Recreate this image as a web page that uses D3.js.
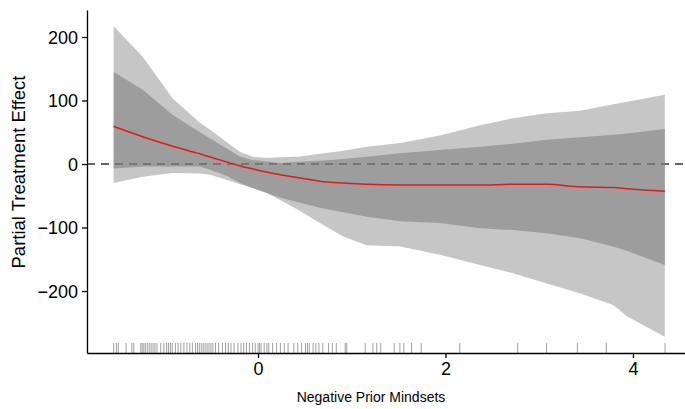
<!DOCTYPE html>
<html>
<head>
<meta charset="utf-8">
<script src="https://cdn.jsdelivr.net/npm/d3@7"></script>
<style>
  body { margin: 0; background: #fff; }
  svg { display: block; font-family: "Liberation Sans", Arial, Helvetica, sans-serif; }
  .axis text { font-size: 18px; fill: #000; }
  .axis path, .axis line { stroke: #000; stroke-width: 1.3px; }
</style>
</head>
<body>
<svg id="chart" width="685" height="409"></svg>
<script>
// x grid of the smooth (negative prior mindsets)
const xs = [-1.54, -1.23, -0.91, -0.62, -0.51, -0.33, -0.19, -0.05, 0.10, 0.24, 0.45, 0.66,
  0.91, 1.16, 1.52, 1.94, 2.37, 2.72, 3.08, 3.44, 3.79, 3.94, 4.34];
// partial treatment effect estimate
const fit = [59, 43, 28, 16, 11, 3, -3, -8, -13, -17, -22, -27,
  -30, -32, -33, -33, -33, -32, -32, -36, -37, -39, -43];
// inner band
const innerHi = [145, 117, 77, 50, 40, 24, 11.5, 6, 4, 1.6, 3.6, 5,
  8, 11.5, 17, 22, 27, 32, 38, 42, 46, 48, 55];
const innerLo = [-7, -4, -4, -4, -9, -19, -30, -38, -46, -53, -61, -69,
  -76, -83, -90, -93, -101, -104, -109, -117, -130, -137, -159];
// outer band
const outerHi = [217, 169, 103, 65, 54, 34, 19, 11, 10, 10.5, 12, 16,
  21, 27, 33, 45, 61, 72, 80, 84, 94, 98, 109];
const outerLo = [-30, -20, -14, -15, -17, -25, -32, -38, -46, -57, -74, -93,
  -114, -128, -130, -143, -159, -172, -188, -204, -222, -240, -272];
// observed values (rug)
const rug = [-1.539, -1.510, -1.490, -1.407, -1.346, -1.325, -1.251, -1.235, -1.218, -1.202,
  -1.181, -1.160, -1.140, -1.119, -1.099, -1.078, -1.037, -1.004, -0.975, -0.955, -0.934,
  -0.914, -0.881, -0.852, -0.823, -0.790, -0.757, -0.728, -0.700, -0.667, -0.646, -0.626,
  -0.605, -0.584, -0.564, -0.543, -0.523, -0.502, -0.481, -0.453, -0.420, -0.379, -0.346,
  -0.317, -0.288, -0.255, -0.214, -0.181, -0.152, -0.123, -0.091, -0.058, -0.029, 0,
  0.016, 0.033, 0.066, 0.095, 0.115, 0.156, 0.198, 0.239, 0.280, 0.321, 0.383, 0.424,
  0.465, 0.506, 0.527, 0.547, 0.588, 0.617, 0.650, 0.691, 0.753, 0.794, 0.835, 0.930,
  0.947, 1.144, 1.226, 1.267, 1.309, 1.453, 1.514, 1.556, 1.638, 1.741, 2.152, 2.770,
  3.078, 3.407, 3.716, 4.342];
const xTicks = [0, 2, 4];
const yTicks = [-200, -100, 0, 100, 200];

const svg = d3.select('#chart');
const margin = { left: 87, right: 685, top: 10, bottom: 353 };

const x = d3.scaleLinear().domain([-1.824, 4.555]).range([margin.left, margin.right]);
const y = d3.scaleLinear().domain([-297.6, 242.5]).range([margin.bottom, margin.top]);

const rows = xs.map((v, i) => ({
  x: v, fit: fit[i], ih: innerHi[i], il: innerLo[i], oh: outerHi[i], ol: outerLo[i]
}));

const outerArea = d3.area()
  .x((d) => x(d.x))
  .y0((d) => y(d.ol))
  .y1((d) => y(d.oh));
const innerArea = d3.area()
  .x((d) => x(d.x))
  .y0((d) => y(d.il))
  .y1((d) => y(d.ih));
const fitLine = d3.line()
  .x((d) => x(d.x))
  .y((d) => y(d.fit))
  .curve(d3.curveMonotoneX);

// zero reference, under the translucent bands
svg.append('line')
  .attr('x1', margin.left).attr('x2', margin.right)
  .attr('y1', y(0)).attr('y2', y(0))
  .attr('stroke', '#333').attr('stroke-width', 1.6)
  .attr('stroke-dasharray', '8,6');

svg.append('path').datum(rows).attr('d', outerArea)
  .attr('fill', '#8d8d8d').attr('fill-opacity', 0.5);
svg.append('path').datum(rows).attr('d', innerArea)
  .attr('fill', '#747474').attr('fill-opacity', 0.5);

svg.append('path').datum(rows)
  .attr('d', fitLine)
  .attr('fill', 'none')
  .attr('stroke', '#e0191b')
  .attr('stroke-width', 1.5);

// rug
svg.selectAll('.rug')
  .data(rug)
  .enter().append('line')
  .attr('class', 'rug')
  .attr('x1', (d) => x(d)).attr('x2', (d) => x(d))
  .attr('y1', margin.bottom - 10).attr('y2', margin.bottom)
  .attr('stroke', '#777')
  .attr('stroke-opacity', 0.7)
  .attr('stroke-width', 1);

// axes
svg.append('g')
  .attr('class', 'axis')
  .attr('transform', 'translate(0,' + margin.bottom + ')')
  .call(d3.axisBottom(x).tickValues(xTicks).tickFormat(d3.format('d'))
    .tickSize(5).tickSizeOuter(0).tickPadding(3))
  .selectAll('text').attr('dy', '0.8em');

svg.append('g')
  .attr('class', 'axis')
  .attr('transform', 'translate(' + margin.left + ',0)')
  .call(d3.axisLeft(y).tickValues(yTicks).tickFormat(d3.format('d'))
    .tickSize(5).tickSizeOuter(0).tickPadding(4))
  .selectAll('text').attr('dy', '0.36em');

svg.append('text')
  .attr('x', 371)
  .attr('y', 402)
  .attr('text-anchor', 'middle')
  .attr('font-size', 14)
  .text('Negative Prior Mindsets');

svg.append('text')
  .attr('transform', 'translate(25,172) rotate(-90)')
  .attr('text-anchor', 'middle')
  .attr('font-size', 18.5)
  .text('Partial Treatment Effect');
</script>
</body>
</html>
